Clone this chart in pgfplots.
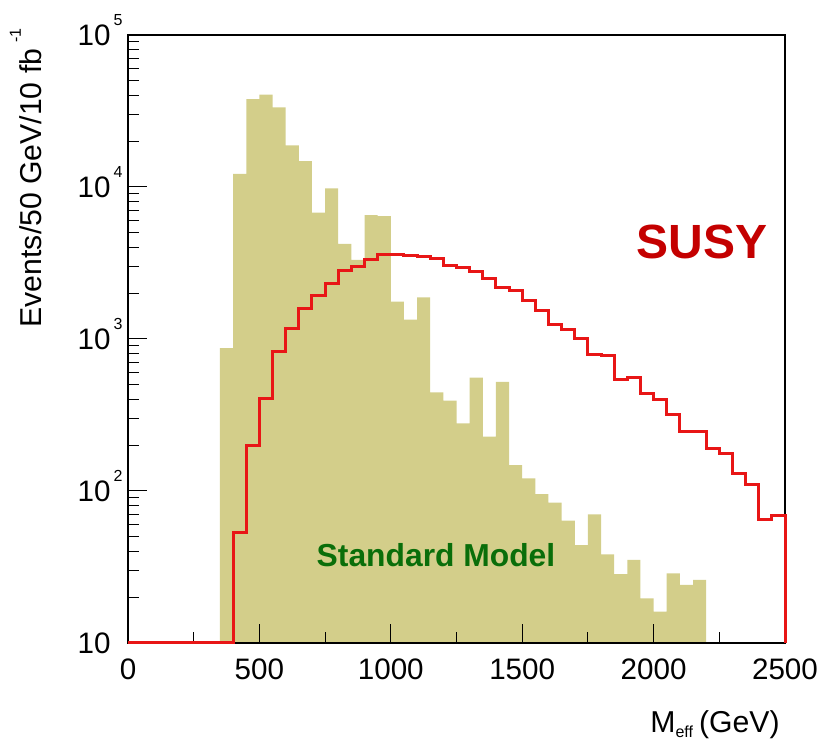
\documentclass[border=0pt]{standalone}
\usepackage{fontspec}
\setmainfont{Liberation Sans}
\usepackage{pgfplots}
\pgfplotsset{compat=1.18}
\definecolor{smfill}{RGB}{211,206,138}
\definecolor{susyline}{RGB}{232,22,22}
\definecolor{susytext}{RGB}{196,0,0}
\definecolor{smtext}{RGB}{10,110,10}
\newcommand{\tl}[1]{10\smash{\rlap{\hspace{1.5pt}\raisebox{10pt}{\fontsize{8}{8}\selectfont #1}}}}
\begin{document}
\begin{tikzpicture}
\begin{axis}[
  set layers, axis on top, clip=false,
  at={(0pt,0pt)}, anchor=south west, scale only axis,
  width=328.5pt, height=304pt,
  ymode=log, xmin=0, xmax=2500, ymin=10, ymax=100000,
  xtick={0,500,1000,1500,2000,2500},
  xticklabels={0,500,1000,1500,2000,2500},
  minor xtick={250,750,1250,1750,2250},
  ytick={10,100,1000,10000,100000},
  yticklabels={10,\tl{2},\tl{3},\tl{4},\tl{5}},
  minor ytick={20,30,40,50,60,70,80,90,200,300,400,500,600,700,800,900,2000,3000,4000,5000,6000,7000,8000,9000,20000,30000,40000,50000,60000,70000,80000,90000},
  tick pos=left, tick align=inside,
  major tick length=9.5pt, minor tick length=5.5pt,
  tick style={black, line width=0.5pt},
  axis line style={line width=0.8pt},
  every tick label/.append style={font=\fontsize{14.8}{17}\selectfont},
  xticklabel style={anchor=north, inner sep=0pt, yshift=-7.5pt},
  yticklabel style={anchor=east, inner sep=0pt, xshift=-8.5pt},
  label style={font=\fontsize{15.1}{17}\selectfont},
  xlabel={M\raisebox{-2.5pt}{\fontsize{8}{8}\selectfont eff}\hspace{3pt}(GeV)},
  xlabel style={at={(axis description cs:0.9924,-0.148)}, anchor=base east, inner sep=0pt},
  ylabel={Events/50 GeV/10 fb\hspace{3pt}\raisebox{10.5pt}{\fontsize{8}{8}\selectfont -1}},
  ylabel style={at={(axis description cs:-0.1309,1.0115)}, anchor=base east, inner sep=0pt},
]
% Standard Model histogram
\addplot[const plot, fill=smfill, draw=none] coordinates {
(350,10) (350,870) (400,12200) (450,37800) (500,40500) (550,33400) (600,18800)
(650,14800) (700,6780) (750,9800) (800,4220) (850,3310) (900,6540) (950,6440)
(1000,1760) (1050,1340) (1100,1880) (1150,446) (1200,393) (1250,279) (1300,556)
(1350,228) (1400,522) (1450,148) (1500,121) (1550,95.5) (1600,83.8) (1650,63.8)
(1700,44.1) (1750,70.3) (1800,38.3) (1850,28.4) (1900,35.2) (1950,19.7) (2000,16.1)
(2050,28.7) (2100,24.1) (2150,26) (2200,26) (2200,10)};
% SUSY histogram
\addplot[const plot, draw=susyline, line width=1.5pt, on layer=axis foreground] coordinates {
(0,10) (400,53.5) (450,199) (500,403) (550,825) (600,1175) (650,1580) (700,1927)
(750,2325) (800,2810) (850,2990) (900,3345) (950,3570) (1000,3570) (1050,3530)
(1100,3480) (1150,3400) (1200,3050) (1250,2950) (1300,2800) (1350,2500) (1400,2180)
(1450,2100) (1500,1780) (1550,1550) (1600,1250) (1650,1160) (1700,1005) (1750,795)
(1800,780) (1850,545) (1900,562) (1950,440) (2000,399) (2050,318) (2100,248)
(2150,248) (2200,191) (2250,177) (2300,130) (2350,110) (2400,65) (2450,69)
(2500,69) (2500,10)};
\node[font=\fontsize{24}{28}\selectfont\bfseries, text=susytext] at (axis cs:2184,4350) {SUSY};
\node[font=\fontsize{15.9}{18}\selectfont\bfseries, text=smtext] at (axis cs:1172,37.9) {Standard Model};
\end{axis}
\pgfresetboundingbox
\useasboundingbox (-64pt,-48pt) rectangle (346pt,321.5pt);
\end{tikzpicture}
\end{document}
